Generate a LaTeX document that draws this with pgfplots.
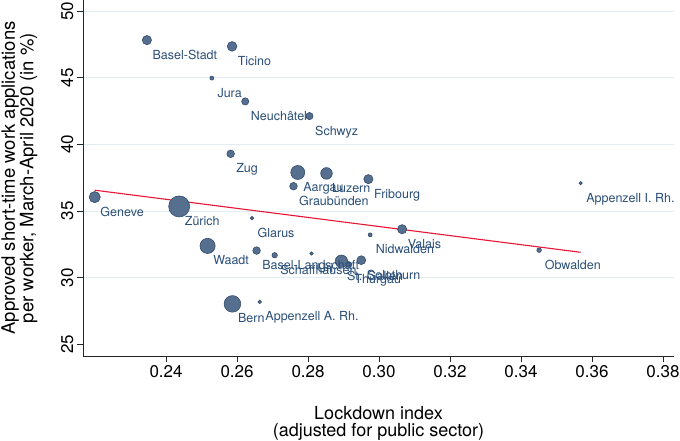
\documentclass[border=0pt]{standalone}
\usepackage{fontspec}
\setmainfont{TeX Gyre Heros}
\usepackage{graphicx}
\usepackage{pgfplots}
\usepackage{pgfplotstable}
\pgfplotsset{compat=1.18}
\definecolor{mfill}{RGB}{86,111,142}
\definecolor{medge}{RGB}{50,76,110}
\definecolor{lblc}{RGB}{42,78,120}
\definecolor{gridc}{RGB}{226,237,241}
\definecolor{fitc}{RGB}{232,22,52}

\pgfplotstableread[col sep=comma,row sep=\\]{
x,y,r,label\\
0.2346,47.82,4.6,Basel-Stadt\\
0.2586,47.35,4.8,Ticino\\
0.2529,44.97,2.0,Jura\\
0.2623,43.22,3.6,Neuchâtel\\
0.2804,42.12,3.6,Schwyz\\
0.2582,39.29,3.8,Zug\\
0.2771,37.89,7.0,Aargau\\
0.2852,37.82,5.8,Luzern\\
0.2759,36.86,3.8,Graubünden\\
0.2970,37.39,4.6,Fribourg\\
0.2199,36.04,5.6,Geneve\\
0.2437,35.34,10.5,Zürich\\
0.2642,34.46,1.8,Glarus\\
0.2517,32.38,7.6,Waadt\\
0.2655,32.03,3.8,Basel-Landschaft\\
0.2706,31.68,2.7,Schaffhausen\\
0.2810,31.81,1.7,Uri\\
0.2915,30.98,3.0,Thurgau\\
0.2894,31.23,6.2,St. Gallen\\
0.2950,31.31,4.4,Solothurn\\
0.2975,33.21,2.0,Nidwalden\\
0.3065,33.63,4.6,Valais\\
0.3451,32.06,2.3,Obwalden\\
0.3568,37.09,1.6,Appenzell I. Rh.\\
0.2587,28.03,8.3,Bern\\
0.2664,28.18,1.8,Appenzell A. Rh.\\
}\cantons

\begin{document}
\begin{tikzpicture}
\begin{axis}[
  name=ax,
  scale only axis,
  width=591pt, height=356pt,
  xmin=0.2166, xmax=0.3831,
  ymin=24.12, ymax=50.83,
  axis x line*=bottom, axis y line*=left,
  axis line style={-, line width=0.8pt, color=black!85},
  tick align=outside,
  major tick length=6pt,
  tick style={black!85, line width=0.8pt},
  xtick={0.24,0.26,0.28,0.30,0.32,0.34,0.36,0.38},
  scaled x ticks=false,
  xticklabel style={/pgf/number format/.cd, fixed, fixed zerofill, precision=2, assume math mode=true},
  ytick={30,35,40,45,50},
  extra y ticks={25},
  extra y tick style={grid=none},
  ymajorgrids,
  grid style={gridc, line width=0.9pt},
  yticklabel={\rotatebox{90}{\pgfmathprintnumber[assume math mode=true]{\tick}}},
  ticklabel style={font=\fontsize{17}{17}\selectfont},
  xlabel={Lockdown index\\(adjusted for public sector)},
  ylabel={Approved short-time work applications\\per worker, March-April 2020 (in \%)},
  every axis x label/.style={at={(axis description cs:0.5,-0.142)}, anchor=north, align=center, inner sep=0pt, font=\fontsize{18}{16.5}\selectfont},
  every axis y label/.style={at={(axis description cs:-0.1385,0.5)}, anchor=north, rotate=90, align=center, inner sep=0pt, font=\fontsize{18.5}{16.8}\selectfont},
  clip=false,
]
\addplot[only marks, scatter, mark=*,
  scatter/use mapped color={draw=medge, fill=mfill},
  mark options={line width=0.6pt},
  point meta=\thisrow{r},
  visualization depends on={\thisrow{r} \as \rad},
  scatter/@pre marker code/.append style={/tikz/mark size=\rad pt},
] table[x=x, y=y] {\cantons};
\addplot[only marks, mark=*, mark size=0pt, mark options={draw=none, fill=none},
  point meta=explicit symbolic,
  nodes near coords,
  every node near coord/.style={anchor=base west, xshift=5.5pt, yshift=-19pt, inner sep=0pt, text=lblc, font=\fontsize{12.5}{13}\selectfont},
] table[x=x, y=y, meta=label] {\cantons};
\addplot[fitc, line width=1.1pt] coordinates {(0.2199,36.56) (0.3568,31.90)};
\end{axis}
\pgfresetboundingbox
\path[use as bounding box] ([xshift=-83pt,yshift=-85pt]ax.south west) rectangle ([xshift=6pt]ax.north east);
\end{tikzpicture}
\end{document}
